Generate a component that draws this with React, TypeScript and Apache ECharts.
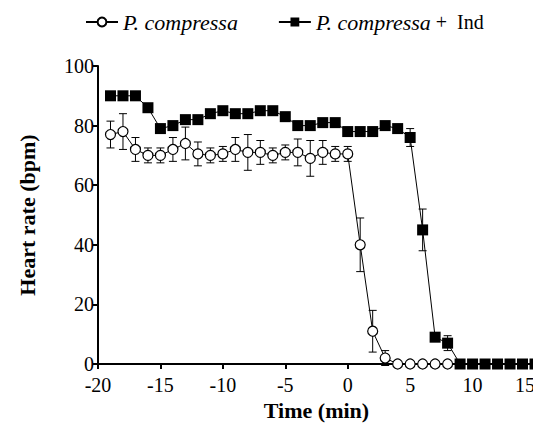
import React, { useEffect, useRef } from "react";
import * as echarts from "echarts";

const circleTimes = [-19, -18, -17, -16, -15, -14, -13, -12, -11, -10, -9, -8, -7, -6, -5, -4, -3, -2, -1, 0, 1, 2, 3, 4, 5, 6, 7, 8];
const circleValues = [77, 78, 72, 70, 70, 72, 74, 70.5, 70, 70.5, 72, 71, 71, 70, 71, 71, 69, 71, 70.5, 70.5, 40, 11, 2, 0, 0, 0, 0, 0];
const circleErrors = [4.5, 6, 4, 2.5, 2.5, 4, 5.5, 4, 2.5, 2.5, 4, 6, 4, 2.5, 2.5, 4.5, 6, 4, 2.5, 2.5, 9, 7, 2.5, 0, 0, 0, 0, 0];

const squareTimes = [-19, -18, -17, -16, -15, -14, -13, -12, -11, -10, -9, -8, -7, -6, -5, -4, -3, -2, -1, 0, 1, 2, 3, 4, 5, 6, 7, 8, 9, 10, 11, 12, 13, 14, 15];
const squareValues = [90, 90, 90, 86, 79, 80, 82, 82, 84, 85, 84, 84, 85, 85, 83, 80, 80, 81, 81, 78, 78, 78, 80, 79, 76, 45, 9, 7, 0, 0, 0, 0, 0, 0, 0];
const squareErrors = [1, 1, 1, 1, 1, 1, 1, 1, 1, 1, 1, 1, 1, 1, 1, 1, 1, 1, 1, 1, 1, 1, 1, 1, 3, 7, 1, 2.5, 0, 0, 0, 0, 0, 0, 0];

const xTicks = { min: -20, max: 15, interval: 5 };
const yTicks = { min: 0, max: 100, interval: 20 };

const seriesNames = ["P. compressa", "P. compressa + Ind"];
const xTitle = "Time (min)";
const yTitle = "Heart rate (bpm)";

const FONT = "Liberation Serif";

function errorBarSeries(times: number[], values: number[], errors: number[], z: number) {
  return {
    type: "custom",
    silent: true,
    z,
    data: times.map((t, i) => [t, values[i], errors[i]]),
    renderItem: (params: any, api: any) => {
      const x = api.value(0);
      const v = api.value(1);
      const e = api.value(2);
      if (!e) return { type: "group", children: [] };
      const top = api.coord([x, v + e]);
      const bot = api.coord([x, v - e]);
      const w = 4;
      const style = { stroke: "#000", lineWidth: 1 };
      return {
        type: "group",
        children: [
          { type: "line", shape: { x1: top[0], y1: top[1], x2: bot[0], y2: bot[1] }, style },
          { type: "line", shape: { x1: top[0] - w, y1: top[1], x2: top[0] + w, y2: top[1] }, style },
          { type: "line", shape: { x1: bot[0] - w, y1: bot[1], x2: bot[0] + w, y2: bot[1] }, style },
        ],
      };
    },
  };
}

export default function App() {
  const ref = useRef<HTMLDivElement>(null);
  useEffect(() => {
    if (!ref.current) return;
    const chart = echarts.init(ref.current, null, { renderer: "svg" });
    chart.setOption({
      animation: false,
      backgroundColor: "#fff",
      legend: {
        data: seriesNames,
        left: 72,
        top: -2,
        itemWidth: 32,
        itemHeight: 11,
        itemGap: 40,
        textStyle: {
          fontFamily: FONT,
          fontSize: 20,
          color: "#000",
          rich: {
            i: { fontFamily: FONT, fontSize: 22, fontStyle: "italic", color: "#000" },
            n: { fontFamily: FONT, fontSize: 20, color: "#000" },
          },
        },
        formatter: (name: string) =>
          name === seriesNames[0] ? "{i|P. compressa}" : "{i|P. compressa}{n| +  Ind}",
      },
      grid: { left: 88, right: 14, top: 58, bottom: 79, containLabel: false },
      xAxis: {
        type: "value",
        min: xTicks.min,
        max: xTicks.max,
        interval: xTicks.interval,
        name: xTitle,
        nameLocation: "middle",
        nameGap: 33,
        nameTextStyle: { fontFamily: FONT, fontSize: 22, fontWeight: "bold", color: "#000" },
        axisLine: { onZero: false, lineStyle: { color: "#000", width: 2 } },
        axisTick: { show: true, inside: false, length: 5, lineStyle: { color: "#000", width: 2 } },
        axisLabel: { fontFamily: FONT, fontSize: 20, color: "#000", margin: 11, alignMaxLabel: "right" },
        splitLine: { show: false },
      },
      yAxis: {
        type: "value",
        min: yTicks.min,
        max: yTicks.max,
        interval: yTicks.interval,
        name: yTitle,
        nameLocation: "middle",
        nameGap: 60,
        nameTextStyle: { fontFamily: FONT, fontSize: 22, fontWeight: "bold", color: "#000" },
        axisLine: { show: true, onZero: false, lineStyle: { color: "#000", width: 2 } },
        axisTick: { show: true, inside: false, length: 5, lineStyle: { color: "#000", width: 2 } },
        axisLabel: { fontFamily: FONT, fontSize: 20, color: "#000", margin: 4 },
        splitLine: { show: false },
      },
      series: [
        errorBarSeries(circleTimes, circleValues, circleErrors, 1),
        errorBarSeries(squareTimes, squareValues, squareErrors, 1),
        {
          name: seriesNames[0],
          type: "line",
          z: 3,
          data: circleTimes.map((t, i) => [t, circleValues[i]]),
          symbol: "circle",
          symbolSize: 10,
          showAllSymbol: true,
          lineStyle: { color: "#000", width: 1 },
          itemStyle: { color: "#fff", borderColor: "#000", borderWidth: 1.2 },
        },
        {
          name: seriesNames[1],
          type: "line",
          z: 4,
          data: squareTimes.map((t, i) => [t, squareValues[i]]),
          symbol: "rect",
          symbolSize: 11,
          showAllSymbol: true,
          lineStyle: { color: "#000", width: 1 },
          itemStyle: { color: "#000", borderColor: "#000", borderWidth: 0 },
        },
      ],
    });
    return () => chart.dispose();
  }, []);
  return <div ref={ref} style={{ width: 541, height: 435 }} />;
}
